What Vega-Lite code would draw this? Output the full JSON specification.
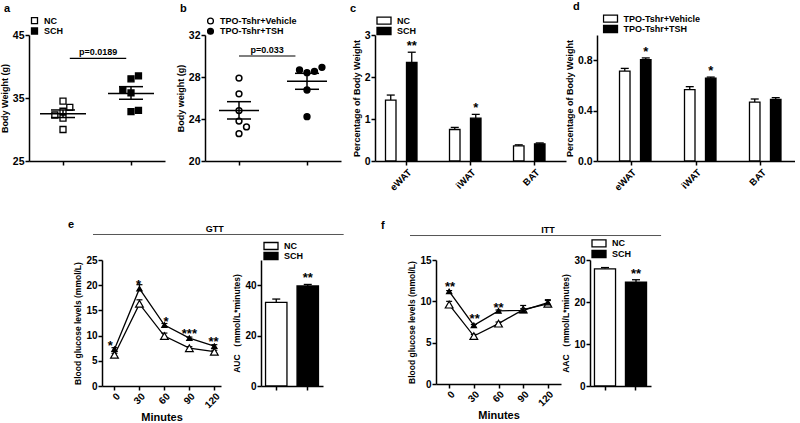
{
  "$schema": "https://vega.github.io/schema/vega-lite/v6.json",
  "background": "white",
  "padding": {"left": 0, "top": 0, "right": 0, "bottom": 0},
  "spacing": 26,
  "resolve": {"scale": {"fill": "independent", "size": "independent"}, "legend": {"fill": "independent", "size": "independent"}},
  "config": {
    "view": {"stroke": null},
    "font": "Liberation Sans",
    "axis": {"domainColor": "black", "domainWidth": 1.5, "tickColor": "black", "tickWidth": 1.5, "tickSize": 4, "labelFont": "Liberation Sans", "labelFontWeight": "bold", "labelFontSize": 10.5, "labelColor": "black", "labelPadding": 1, "titleFont": "Liberation Sans", "titleFontWeight": "bold", "titleFontSize": 9, "titleColor": "black", "titlePadding": 3, "grid": false},
    "legend": {"labelFont": "Liberation Sans", "labelFontWeight": "bold", "labelFontSize": 9, "labelColor": "black", "labelOffset": 5, "padding": 0, "symbolStrokeColor": "black", "symbolStrokeWidth": 1.3, "symbolOpacity": 1},
    "title": {"font": "Liberation Sans", "fontWeight": "bold", "fontSize": 11, "color": "black", "anchor": "start", "frame": "group"}
  },
  "vconcat": [
    {
      "bounds": "flush",
      "spacing": 0,
      "resolve": {"scale": {"fill": "independent", "size": "independent"}, "legend": {"fill": "independent", "size": "independent"}},
      "hconcat": [
        {
          "width": 136, "height": 126,
          "title": {"text": "a", "dx": -25, "offset": 2},
          "layer": [
            {
              "data": {"values": [
                {"group": "NC", "x": 1, "w": 34.5}, {"group": "NC", "x": 1.1, "w": 33.5}, {"group": "NC", "x": 1, "w": 32.9},
                {"group": "NC", "x": 0.88, "w": 32.3}, {"group": "NC", "x": 1, "w": 31.8}, {"group": "NC", "x": 1, "w": 30.0},
                {"group": "SCH", "x": 2, "w": 38.05}, {"group": "SCH", "x": 2.11, "w": 38.5}, {"group": "SCH", "x": 1.88, "w": 36.25},
                {"group": "SCH", "x": 2, "w": 35.8}, {"group": "SCH", "x": 2, "w": 32.85}, {"group": "SCH", "x": 2.11, "w": 33.05}
              ]},
              "mark": {"type": "point", "shape": "square", "size": 36, "filled": true, "stroke": "black", "strokeWidth": 1.3, "opacity": 1},
              "encoding": {
                "x": {"field": "x", "type": "quantitative", "scale": {"domain": [0.5, 2.5], "nice": false, "zero": false}, "axis": {"values": [1, 2], "labels": false, "title": null}},
                "y": {"field": "w", "type": "quantitative", "scale": {"domain": [25, 45], "nice": false, "zero": false}, "axis": {"values": [25, 30, 35, 40, 45]}, "title": "Body Weight (g)"},
                "fill": {"field": "group", "type": "nominal", "scale": {"domain": ["NC", "SCH"], "range": ["white", "black"]}, "legend": {"title": null, "orient": "none", "legendX": 1, "legendY": -19.3, "symbolType": "square", "symbolSize": 36, "clipHeight": 10, "rowPadding": 0.3}}
              }
            },
            {
              "data": {"values": [{"group": "NC", "x": 1, "mean": 32.5, "lo": 31.9, "hi": 33.1}, {"group": "SCH", "x": 2, "mean": 35.7, "lo": 34.8, "hi": 36.8}]},
              "layer": [
                {"mark": {"type": "tick", "orient": "horizontal", "size": 46, "thickness": 1.5, "color": "black", "opacity": 1},
                 "encoding": {"x": {"field": "x", "type": "quantitative", "scale": {"domain": [0.5, 2.5], "nice": false, "zero": false}}, "y": {"field": "mean", "type": "quantitative", "scale": {"domain": [25, 45], "nice": false, "zero": false}, "title": "Body Weight (g)"}}},
                {"mark": {"type": "tick", "orient": "horizontal", "size": 24, "thickness": 1.5, "color": "black", "opacity": 1},
                 "encoding": {"x": {"field": "x", "type": "quantitative", "scale": {"domain": [0.5, 2.5], "nice": false, "zero": false}}, "y": {"field": "lo", "type": "quantitative", "scale": {"domain": [25, 45], "nice": false, "zero": false}, "title": "Body Weight (g)"}}},
                {"mark": {"type": "tick", "orient": "horizontal", "size": 24, "thickness": 1.5, "color": "black", "opacity": 1},
                 "encoding": {"x": {"field": "x", "type": "quantitative", "scale": {"domain": [0.5, 2.5], "nice": false, "zero": false}}, "y": {"field": "hi", "type": "quantitative", "scale": {"domain": [25, 45], "nice": false, "zero": false}, "title": "Body Weight (g)"}}},
                {"mark": {"type": "rule", "color": "black", "strokeWidth": 1.5},
                 "encoding": {"x": {"field": "x", "type": "quantitative", "scale": {"domain": [0.5, 2.5], "nice": false, "zero": false}}, "y": {"field": "lo", "type": "quantitative", "scale": {"domain": [25, 45], "nice": false, "zero": false}, "title": "Body Weight (g)"}, "y2": {"field": "hi"}}}
              ]
            },
            {
              "data": {"values": [{"x1": 1.1, "x2": 1.93, "xm": 1.515, "y": 41.3, "label": "p=0.0189"}]},
              "layer": [
                {"mark": {"type": "rule", "color": "black", "strokeWidth": 1.2},
                 "encoding": {"x": {"field": "x1", "type": "quantitative", "scale": {"domain": [0.5, 2.5], "nice": false, "zero": false}}, "x2": {"field": "x2"}, "y": {"field": "y", "type": "quantitative", "scale": {"domain": [25, 45], "nice": false, "zero": false}, "title": "Body Weight (g)"}}},
                {"mark": {"type": "text", "fontSize": 9, "fontWeight": "bold", "baseline": "bottom", "dy": -1, "color": "black"},
                 "encoding": {"x": {"field": "xm", "type": "quantitative", "scale": {"domain": [0.5, 2.5], "nice": false, "zero": false}}, "y": {"field": "y", "type": "quantitative", "scale": {"domain": [25, 45], "nice": false, "zero": false}, "title": "Body Weight (g)"}, "text": {"field": "label"}}}
              ]
            }
          ]
        },
        {"width": 40, "height": 1, "data": {"values": []}, "mark": "point"},
        {
          "width": 136, "height": 126,
          "title": {"text": "b", "dx": -25, "offset": 2},
          "layer": [
            {
              "data": {"values": [
                {"group": "TPO-Tshr+Vehicle", "x": 1, "w": 27.9}, {"group": "TPO-Tshr+Vehicle", "x": 1, "w": 26.4}, {"group": "TPO-Tshr+Vehicle", "x": 1, "w": 24.8},
                {"group": "TPO-Tshr+Vehicle", "x": 1, "w": 23.8}, {"group": "TPO-Tshr+Vehicle", "x": 1.11, "w": 23.25}, {"group": "TPO-Tshr+Vehicle", "x": 1, "w": 22.6},
                {"group": "TPO-Tshr+TSH", "x": 1.89, "w": 28.67}, {"group": "TPO-Tshr+TSH", "x": 2, "w": 28.41}, {"group": "TPO-Tshr+TSH", "x": 2.11, "w": 28.54},
                {"group": "TPO-Tshr+TSH", "x": 2.22, "w": 28.92}, {"group": "TPO-Tshr+TSH", "x": 2, "w": 26.76}, {"group": "TPO-Tshr+TSH", "x": 2, "w": 24.22}
              ]},
              "mark": {"type": "point", "shape": "circle", "size": 34, "filled": true, "stroke": "black", "strokeWidth": 1.5, "opacity": 1},
              "encoding": {
                "x": {"field": "x", "type": "quantitative", "scale": {"domain": [0.5, 2.5], "nice": false, "zero": false}, "axis": {"values": [1, 2], "labels": false, "title": null}},
                "y": {"field": "w", "type": "quantitative", "scale": {"domain": [20, 32], "nice": false, "zero": false}, "axis": {"values": [20, 22, 24, 26, 28, 30, 32]}, "title": "Body weight (g)"},
                "fill": {"field": "group", "type": "nominal", "scale": {"domain": ["TPO-Tshr+Vehicle", "TPO-Tshr+TSH"], "range": ["white", "black"]}, "legend": {"title": null, "orient": "none", "legendX": 1, "legendY": -19, "symbolType": "circle", "symbolSize": 34, "clipHeight": 10, "rowPadding": 0.3}}
              }
            },
            {
              "data": {"values": [{"x": 1, "mean": 24.8, "lo": 24.0, "hi": 25.65}, {"x": 2, "mean": 27.6, "lo": 26.83, "hi": 28.35}]},
              "layer": [
                {"mark": {"type": "tick", "orient": "horizontal", "size": 40, "thickness": 1.5, "color": "black", "opacity": 1},
                 "encoding": {"x": {"field": "x", "type": "quantitative", "scale": {"domain": [0.5, 2.5], "nice": false, "zero": false}}, "y": {"field": "mean", "type": "quantitative", "scale": {"domain": [20, 32], "nice": false, "zero": false}, "title": "Body weight (g)"}}},
                {"mark": {"type": "tick", "orient": "horizontal", "size": 24, "thickness": 1.5, "color": "black", "opacity": 1},
                 "encoding": {"x": {"field": "x", "type": "quantitative", "scale": {"domain": [0.5, 2.5], "nice": false, "zero": false}}, "y": {"field": "lo", "type": "quantitative", "scale": {"domain": [20, 32], "nice": false, "zero": false}, "title": "Body weight (g)"}}},
                {"mark": {"type": "tick", "orient": "horizontal", "size": 24, "thickness": 1.5, "color": "black", "opacity": 1},
                 "encoding": {"x": {"field": "x", "type": "quantitative", "scale": {"domain": [0.5, 2.5], "nice": false, "zero": false}}, "y": {"field": "hi", "type": "quantitative", "scale": {"domain": [20, 32], "nice": false, "zero": false}, "title": "Body weight (g)"}}},
                {"mark": {"type": "rule", "color": "black", "strokeWidth": 1.5},
                 "encoding": {"x": {"field": "x", "type": "quantitative", "scale": {"domain": [0.5, 2.5], "nice": false, "zero": false}}, "y": {"field": "lo", "type": "quantitative", "scale": {"domain": [20, 32], "nice": false, "zero": false}, "title": "Body weight (g)"}, "y2": {"field": "hi"}}}
              ]
            },
            {
              "data": {"values": [{"x1": 1.0, "x2": 1.83, "xm": 1.415, "y": 30.0, "label": "p=0.033"}]},
              "layer": [
                {"mark": {"type": "rule", "color": "black", "strokeWidth": 1.2},
                 "encoding": {"x": {"field": "x1", "type": "quantitative", "scale": {"domain": [0.5, 2.5], "nice": false, "zero": false}}, "x2": {"field": "x2"}, "y": {"field": "y", "type": "quantitative", "scale": {"domain": [20, 32], "nice": false, "zero": false}, "title": "Body weight (g)"}}},
                {"mark": {"type": "text", "fontSize": 9, "fontWeight": "bold", "baseline": "bottom", "dy": -1, "color": "black"},
                 "encoding": {"x": {"field": "xm", "type": "quantitative", "scale": {"domain": [0.5, 2.5], "nice": false, "zero": false}}, "y": {"field": "y", "type": "quantitative", "scale": {"domain": [20, 32], "nice": false, "zero": false}, "title": "Body weight (g)"}, "text": {"field": "label"}}}
              ]
            }
          ]
        },
        {"width": 34, "height": 1, "data": {"values": []}, "mark": "point"},
        {
          "width": 191, "height": 126,
          "title": {"text": "c", "dx": -25, "offset": 2},
          "data": {"values": [
            {"tissue": "eWAT", "group": "NC", "value": 1.45, "upper": 1.57, "sig": ""},
            {"tissue": "eWAT", "group": "SCH", "value": 2.35, "upper": 2.59, "sig": "**"},
            {"tissue": "iWAT", "group": "NC", "value": 0.75, "upper": 0.80, "sig": ""},
            {"tissue": "iWAT", "group": "SCH", "value": 1.02, "upper": 1.11, "sig": "*"},
            {"tissue": "BAT", "group": "NC", "value": 0.36, "upper": 0.385, "sig": ""},
            {"tissue": "BAT", "group": "SCH", "value": 0.41, "upper": 0.43, "sig": ""}
          ]},
          "encoding": {
            "x": {"field": "tissue", "type": "nominal", "sort": ["eWAT", "iWAT", "BAT"], "scale": {"paddingInner": 0.344, "paddingOuter": 0.164}, "axis": {"title": null, "labelAngle": -45, "labelFontSize": 9.5, "labelPadding": 2}},
            "xOffset": {"field": "group", "type": "nominal", "sort": ["NC", "SCH"], "scale": {"paddingInner": 0, "paddingOuter": 0}}
          },
          "layer": [
            {"mark": {"type": "rule", "color": "black", "strokeWidth": 1.3},
             "encoding": {"y": {"field": "value", "type": "quantitative", "scale": {"domain": [0, 3]}, "title": "Percentage of Body Weight"}, "y2": {"field": "upper"}}},
            {"mark": {"type": "tick", "orient": "horizontal", "size": 8, "thickness": 1.3, "color": "black", "opacity": 1},
             "encoding": {"y": {"field": "upper", "type": "quantitative", "scale": {"domain": [0, 3]}, "title": "Percentage of Body Weight"}}},
            {"mark": {"type": "bar", "stroke": "black", "strokeWidth": 1.3},
             "encoding": {
               "y": {"field": "value", "type": "quantitative", "scale": {"domain": [0, 3]}, "axis": {"values": [0, 1, 2, 3]}, "title": "Percentage of Body Weight"},
               "fill": {"field": "group", "type": "nominal", "scale": {"domain": ["NC", "SCH"], "range": ["white", "black"]}, "legend": {"title": null, "orient": "none", "legendX": 1, "legendY": -19.3, "symbolType": "M-1,-0.5H1V0.5H-1Z", "symbolSize": 196, "clipHeight": 10, "rowPadding": 0.3}}
             }},
            {"mark": {"type": "text", "fontSize": 13, "fontWeight": "bold", "baseline": "alphabetic", "dy": -2, "color": "black"},
             "encoding": {"y": {"field": "upper", "type": "quantitative", "scale": {"domain": [0, 3]}, "title": "Percentage of Body Weight"}, "text": {"field": "sig"}}}
          ]
        },
        {"width": 31, "height": 1, "data": {"values": []}, "mark": "point"},
        {
          "width": 198, "height": 126,
          "title": {"text": "d", "dx": -24, "offset": 2},
          "data": {"values": [
            {"tissue": "eWAT", "group": "TPO-Tshr+Vehicle", "value": 0.714, "upper": 0.735, "sig": ""},
            {"tissue": "eWAT", "group": "TPO-Tshr+TSH", "value": 0.805, "upper": 0.818, "sig": "*"},
            {"tissue": "iWAT", "group": "TPO-Tshr+Vehicle", "value": 0.567, "upper": 0.59, "sig": ""},
            {"tissue": "iWAT", "group": "TPO-Tshr+TSH", "value": 0.658, "upper": 0.666, "sig": "*"},
            {"tissue": "BAT", "group": "TPO-Tshr+Vehicle", "value": 0.468, "upper": 0.492, "sig": ""},
            {"tissue": "BAT", "group": "TPO-Tshr+TSH", "value": 0.489, "upper": 0.503, "sig": ""}
          ]},
          "encoding": {
            "x": {"field": "tissue", "type": "nominal", "sort": ["eWAT", "iWAT", "BAT"], "scale": {"paddingInner": 0.323, "paddingOuter": 0.185}, "axis": {"title": null, "labelAngle": -45, "labelFontSize": 9.5, "labelPadding": 2}},
            "xOffset": {"field": "group", "type": "nominal", "sort": ["TPO-Tshr+Vehicle", "TPO-Tshr+TSH"], "scale": {"paddingInner": 0, "paddingOuter": 0}}
          },
          "layer": [
            {"mark": {"type": "rule", "color": "black", "strokeWidth": 1.3},
             "encoding": {"y": {"field": "value", "type": "quantitative", "scale": {"domain": [0, 1]}, "title": "Percentage of Body Weight"}, "y2": {"field": "upper"}}},
            {"mark": {"type": "tick", "orient": "horizontal", "size": 8, "thickness": 1.3, "color": "black", "opacity": 1},
             "encoding": {"y": {"field": "upper", "type": "quantitative", "scale": {"domain": [0, 1]}, "title": "Percentage of Body Weight"}}},
            {"mark": {"type": "bar", "stroke": "black", "strokeWidth": 1.3},
             "encoding": {
               "y": {"field": "value", "type": "quantitative", "scale": {"domain": [0, 1]}, "axis": {"values": [0, 0.2, 0.4, 0.6, 0.8, 1.0], "format": ".1f"}, "title": "Percentage of Body Weight"},
               "fill": {"field": "group", "type": "nominal", "scale": {"domain": ["TPO-Tshr+Vehicle", "TPO-Tshr+TSH"], "range": ["white", "black"]}, "legend": {"title": null, "orient": "none", "legendX": 5.5, "legendY": -21.3, "symbolType": "M-1,-0.5H1V0.5H-1Z", "symbolSize": 196, "clipHeight": 10, "rowPadding": 0.3}}
             }},
            {"mark": {"type": "text", "fontSize": 13, "fontWeight": "bold", "baseline": "alphabetic", "dy": -2, "color": "black"},
             "encoding": {"y": {"field": "upper", "type": "quantitative", "scale": {"domain": [0, 1]}, "title": "Percentage of Body Weight"}, "text": {"field": "sig"}}}
          ]
        }
      ]
    },
    {
      "bounds": "flush",
      "spacing": 0,
      "resolve": {"scale": {"fill": "independent", "size": "independent"}, "legend": {"fill": "independent", "size": "independent"}},
      "hconcat": [
        {"width": 73, "height": 1, "data": {"values": []}, "mark": "point"},
        {
          "width": 119, "height": 126,
          "title": {"text": "e", "dx": -34, "offset": -5},
          "data": {"values": [
            {"t": 0, "group": "NC", "value": 6.2, "upper": 6.5}, {"t": 30, "group": "NC", "value": 16.3, "upper": 17.1},
            {"t": 60, "group": "NC", "value": 9.9, "upper": 10.5}, {"t": 90, "group": "NC", "value": 7.5, "upper": 7.8},
            {"t": 120, "group": "NC", "value": 6.8, "upper": 7.1},
            {"t": 0, "group": "SCH", "value": 7.3, "upper": 7.6}, {"t": 30, "group": "SCH", "value": 19.3, "upper": 20.1},
            {"t": 60, "group": "SCH", "value": 12.1, "upper": 12.4}, {"t": 90, "group": "SCH", "value": 9.5, "upper": 9.7},
            {"t": 120, "group": "SCH", "value": 7.9, "upper": 8.2}
          ]},
          "encoding": {
            "x": {"field": "t", "type": "quantitative", "scale": {"domain": [-15, 128], "nice": false, "zero": false}, "axis": {"values": [0, 30, 60, 90, 120], "labelAngle": -45, "labelFontSize": 10, "titleFontSize": 11, "titlePadding": 2}, "title": "Minutes"},
            "y": {"field": "value", "type": "quantitative", "scale": {"domain": [0, 25]}, "axis": {"values": [0, 5, 10, 15, 20, 25], "labelFontSize": 10, "titleFontSize": 8.5}, "title": "Blood  glucose levels (mmol/L)"}
          },
          "layer": [
            {"mark": {"type": "line", "color": "black", "strokeWidth": 1.3}, "encoding": {"detail": {"field": "group"}}},
            {"mark": {"type": "rule", "color": "black", "strokeWidth": 1.2}, "encoding": {"y2": {"field": "upper"}}},
            {"mark": {"type": "tick", "orient": "horizontal", "size": 6, "thickness": 1.2, "color": "black", "opacity": 1},
             "encoding": {"y": {"field": "upper", "type": "quantitative", "scale": {"domain": [0, 25]}, "title": "Blood  glucose levels (mmol/L)"}}},
            {"mark": {"type": "point", "shape": "triangle-up", "filled": true, "stroke": "black", "strokeWidth": 1.2, "opacity": 1},
             "encoding": {
               "fill": {"field": "group", "type": "nominal", "scale": {"domain": ["NC", "SCH"], "range": ["white", "black"]}, "legend": {"title": null, "orient": "none", "legendX": 1, "legendY": -18.8, "symbolType": "M-1,0H1M-0.45,0.35L0,-0.45L0.45,0.35Z", "symbolSize": 121, "clipHeight": 11, "rowPadding": 0, "symbolStrokeWidth": 1.2}},
               "size": {"field": "group", "type": "nominal", "scale": {"domain": ["NC", "SCH"], "range": [60, 28]}, "legend": null}
             }},
            {"data": {"values": [
               {"t": -5, "sy": 8.5, "s": "*"}, {"t": 29, "sy": 20.7, "s": "*"}, {"t": 62, "sy": 13.3, "s": "*"},
               {"t": 90, "sy": 11.0, "s": "***"}, {"t": 119, "sy": 9.3, "s": "**"}
             ]},
             "mark": {"type": "text", "fontSize": 13, "fontWeight": "bold", "baseline": "alphabetic", "dy": 7, "color": "black"},
             "encoding": {"y": {"field": "sy", "type": "quantitative", "scale": {"domain": [0, 25]}, "title": "Blood  glucose levels (mmol/L)"}, "text": {"field": "s"}}},
            {"data": {"values": [{"t1": -25.8, "t2": 275.4, "hy": 30.06}]},
             "mark": {"type": "rule", "color": "#555555", "strokeWidth": 1},
             "encoding": {"x": {"field": "t1", "type": "quantitative", "scale": {"domain": [-15, 128], "nice": false, "zero": false}, "title": "Minutes"}, "x2": {"field": "t2"}, "y": {"field": "hy", "type": "quantitative", "scale": {"domain": [0, 25]}, "title": "Blood  glucose levels (mmol/L)"}}},
            {"data": {"values": [{"tm": 120.6, "ty": 31.2, "label": "GTT"}]},
             "mark": {"type": "text", "fontSize": 9, "fontWeight": "bold", "baseline": "middle", "color": "black"},
             "encoding": {"x": {"field": "tm", "type": "quantitative", "scale": {"domain": [-15, 128], "nice": false, "zero": false}, "title": "Minutes"}, "y": {"field": "ty", "type": "quantitative", "scale": {"domain": [0, 25]}, "title": "Blood  glucose levels (mmol/L)"}, "text": {"field": "label"}}}
          ]
        },
        {"width": 40, "height": 1, "data": {"values": []}, "mark": "point"},
        {
          "width": 62, "height": 126,
          "data": {"values": [
            {"group": "NC", "value": 33.2, "upper": 34.5, "sig": ""},
            {"group": "SCH", "value": 39.7, "upper": 40.3, "sig": "**"}
          ]},
          "encoding": {
            "x": {"field": "group", "type": "nominal", "sort": ["NC", "SCH"], "scale": {"paddingInner": 0.32, "paddingOuter": 0.144}, "axis": {"labels": false, "title": null}}
          },
          "layer": [
            {"mark": {"type": "rule", "color": "black", "strokeWidth": 1.3},
             "encoding": {"y": {"field": "value", "type": "quantitative", "scale": {"domain": [0, 50]}, "title": "AUC （mmol/L*minutes)"}, "y2": {"field": "upper"}}},
            {"mark": {"type": "tick", "orient": "horizontal", "size": 8, "thickness": 1.3, "color": "black", "opacity": 1},
             "encoding": {"y": {"field": "upper", "type": "quantitative", "scale": {"domain": [0, 50]}, "title": "AUC （mmol/L*minutes)"}}},
            {"mark": {"type": "bar", "stroke": "black", "strokeWidth": 1.3},
             "encoding": {
               "y": {"field": "value", "type": "quantitative", "scale": {"domain": [0, 50]}, "axis": {"values": [0, 10, 20, 30, 40, 50], "labelFontSize": 10, "titleFontSize": 8.5}, "title": "AUC （mmol/L*minutes)"},
               "fill": {"field": "group", "type": "nominal", "scale": {"domain": ["NC", "SCH"], "range": ["white", "black"]}, "legend": {"title": null, "orient": "none", "legendX": 2, "legendY": -19, "symbolType": "M-1,-0.5H1V0.5H-1Z", "symbolSize": 196, "clipHeight": 10, "rowPadding": 0}}
             }},
            {"mark": {"type": "text", "fontSize": 13, "fontWeight": "bold", "baseline": "alphabetic", "dy": -2, "color": "black"},
             "encoding": {"y": {"field": "upper", "type": "quantitative", "scale": {"domain": [0, 50]}, "title": "AUC （mmol/L*minutes)"}, "text": {"field": "sig"}}}
          ]
        },
        {"width": 113, "height": 1, "data": {"values": []}, "mark": "point"},
        {
          "width": 125, "height": 124,
          "title": {"text": "f", "dx": -55, "offset": -5},
          "data": {"values": [
            {"t": 0, "group": "NC", "value": 9.6, "upper": 10.0}, {"t": 30, "group": "NC", "value": 5.8, "upper": 6.0},
            {"t": 60, "group": "NC", "value": 7.3, "upper": 7.5}, {"t": 90, "group": "NC", "value": 9.0, "upper": 9.5},
            {"t": 120, "group": "NC", "value": 9.7, "upper": 10.1},
            {"t": 0, "group": "SCH", "value": 11.2, "upper": 11.3}, {"t": 30, "group": "SCH", "value": 7.1, "upper": 7.2},
            {"t": 60, "group": "SCH", "value": 8.85, "upper": 8.95}, {"t": 90, "group": "SCH", "value": 8.9, "upper": 9.1},
            {"t": 120, "group": "SCH", "value": 9.85, "upper": 10.2}
          ]},
          "encoding": {
            "x": {"field": "t", "type": "quantitative", "scale": {"domain": [-16, 136], "nice": false, "zero": false}, "axis": {"values": [0, 30, 60, 90, 120], "labelAngle": -45, "labelFontSize": 10, "titleFontSize": 11, "titlePadding": 2}, "title": "Minutes"},
            "y": {"field": "value", "type": "quantitative", "scale": {"domain": [0, 15]}, "axis": {"values": [0, 5, 10, 15], "labelFontSize": 10, "titleFontSize": 8.5}, "title": "Blood  glucose levels (mmol/L)"}
          },
          "layer": [
            {"mark": {"type": "line", "color": "black", "strokeWidth": 1.3}, "encoding": {"detail": {"field": "group"}}},
            {"mark": {"type": "rule", "color": "black", "strokeWidth": 1.2}, "encoding": {"y2": {"field": "upper"}}},
            {"mark": {"type": "tick", "orient": "horizontal", "size": 6, "thickness": 1.2, "color": "black", "opacity": 1},
             "encoding": {"y": {"field": "upper", "type": "quantitative", "scale": {"domain": [0, 15]}, "title": "Blood  glucose levels (mmol/L)"}}},
            {"mark": {"type": "point", "shape": "triangle-up", "filled": true, "stroke": "black", "strokeWidth": 1.2, "opacity": 1},
             "encoding": {
               "fill": {"field": "group", "type": "nominal", "scale": {"domain": ["NC", "SCH"], "range": ["white", "black"]}, "legend": {"title": null, "orient": "none", "legendX": 2.5, "legendY": -14.5, "symbolType": "M-1,0H1M-0.45,0.35L0,-0.45L0.45,0.35Z", "symbolSize": 121, "clipHeight": 9, "rowPadding": 0, "symbolStrokeWidth": 1.2}},
               "size": {"field": "group", "type": "nominal", "scale": {"domain": ["NC", "SCH"], "range": [60, 28]}, "legend": null}
             }},
            {"data": {"values": [
               {"t": 1, "sy": 12.05, "s": "**"}, {"t": 31, "sy": 8.2, "s": "**"}, {"t": 60, "sy": 9.6, "s": "**"}
             ]},
             "mark": {"type": "text", "fontSize": 13, "fontWeight": "bold", "baseline": "alphabetic", "dy": 7, "color": "black"},
             "encoding": {"y": {"field": "sy", "type": "quantitative", "scale": {"domain": [0, 15]}, "title": "Blood  glucose levels (mmol/L)"}, "text": {"field": "s"}}},
            {"data": {"values": [{"t1": -47.6, "t2": 257.7, "hy": 17.96}]},
             "mark": {"type": "rule", "color": "#555555", "strokeWidth": 1},
             "encoding": {"x": {"field": "t1", "type": "quantitative", "scale": {"domain": [-16, 136], "nice": false, "zero": false}, "title": "Minutes"}, "x2": {"field": "t2"}, "y": {"field": "hy", "type": "quantitative", "scale": {"domain": [0, 15]}, "title": "Blood  glucose levels (mmol/L)"}}},
            {"data": {"values": [{"tm": 120.3, "ty": 18.6, "label": "ITT"}]},
             "mark": {"type": "text", "fontSize": 9, "fontWeight": "bold", "baseline": "middle", "color": "black"},
             "encoding": {"x": {"field": "tm", "type": "quantitative", "scale": {"domain": [-16, 136], "nice": false, "zero": false}, "title": "Minutes"}, "y": {"field": "ty", "type": "quantitative", "scale": {"domain": [0, 15]}, "title": "Blood  glucose levels (mmol/L)"}, "text": {"field": "label"}}}
          ]
        },
        {"width": 29, "height": 1, "data": {"values": []}, "mark": "point"},
        {
          "width": 61, "height": 126,
          "data": {"values": [
            {"group": "NC", "value": 27.9, "upper": 28.2, "sig": ""},
            {"group": "SCH", "value": 24.7, "upper": 25.3, "sig": "**"}
          ]},
          "encoding": {
            "x": {"field": "group", "type": "nominal", "sort": ["NC", "SCH"], "scale": {"paddingInner": 0.32, "paddingOuter": 0.144}, "axis": {"labels": false, "title": null}}
          },
          "layer": [
            {"mark": {"type": "rule", "color": "black", "strokeWidth": 1.3},
             "encoding": {"y": {"field": "value", "type": "quantitative", "scale": {"domain": [0, 30]}, "title": "AAC （mmol/L*minutes)"}, "y2": {"field": "upper"}}},
            {"mark": {"type": "tick", "orient": "horizontal", "size": 8, "thickness": 1.3, "color": "black", "opacity": 1},
             "encoding": {"y": {"field": "upper", "type": "quantitative", "scale": {"domain": [0, 30]}, "title": "AAC （mmol/L*minutes)"}}},
            {"mark": {"type": "bar", "stroke": "black", "strokeWidth": 1.3},
             "encoding": {
               "y": {"field": "value", "type": "quantitative", "scale": {"domain": [0, 30]}, "axis": {"values": [0, 10, 20, 30], "labelFontSize": 10, "titleFontSize": 8.5}, "title": "AAC （mmol/L*minutes)"},
               "fill": {"field": "group", "type": "nominal", "scale": {"domain": ["NC", "SCH"], "range": ["white", "black"]}, "legend": {"title": null, "orient": "none", "legendX": 1, "legendY": -21.7, "symbolType": "M-1,-0.5H1V0.5H-1Z", "symbolSize": 196, "clipHeight": 10, "rowPadding": 0.7}}
             }},
            {"mark": {"type": "text", "fontSize": 13, "fontWeight": "bold", "baseline": "alphabetic", "dy": -2, "color": "black"},
             "encoding": {"y": {"field": "upper", "type": "quantitative", "scale": {"domain": [0, 30]}, "title": "AAC （mmol/L*minutes)"}, "text": {"field": "sig"}}}
          ]
        }
      ]
    }
  ]
}
